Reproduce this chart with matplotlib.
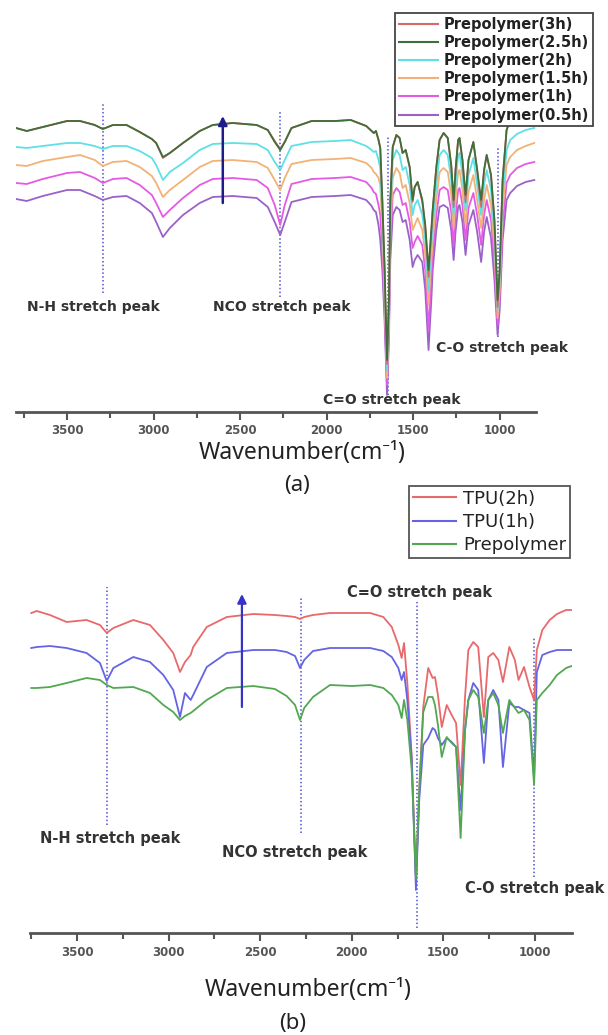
import matplotlib
matplotlib.use('Agg')
import matplotlib.pyplot as plt
from matplotlib.lines import Line2D

# ---------------- Panel (a) data: wavenumber (cm-1) and transmittance (a.u.) ----------------
wn_a = [3795, 3733, 3640, 3500, 3425, 3340, 3293, 3235, 3156, 3080,
        3010, 2985, 2946, 2906, 2830, 2733, 2658, 2543, 2404, 2340,
        2300, 2268, 2242, 2203, 2086, 1950, 1861, 1771, 1740, 1728,
        1715, 1700, 1690, 1678, 1665, 1651, 1640, 1632, 1618, 1597,
        1578, 1561, 1543, 1520, 1503, 1491, 1474, 1447, 1430, 1411,
        1395, 1387, 1366, 1347, 1324, 1300, 1280, 1266, 1255, 1240,
        1232, 1215, 1197, 1180, 1152, 1130, 1107, 1090, 1075, 1050,
        1030, 1012, 1000, 983, 960, 939, 900, 850, 800]

t_3h = [284, 281, 285, 291, 291, 287, 283, 287, 287, 280,
        273, 269, 254, 259, 269, 281, 287, 289, 287, 282,
        271, 263, 270, 284, 291, 291, 292, 286, 281, 279,
        281, 272, 264, 210, 142, 48, 110, 210, 265, 277,
        274, 259, 262, 245, 210, 225, 230, 210, 185, 135,
        180, 202, 245, 272, 279, 274, 247, 205, 242, 272,
        274, 252, 210, 252, 270, 242, 205, 242, 257, 237,
        190, 105, 140, 232, 282, 292, 307, 317, 322]

t_2_5h = [284, 281, 285, 291, 291, 287, 283, 287, 287, 280,
          273, 269, 255, 259, 269, 281, 287, 289, 287, 282,
          270, 262, 270, 284, 291, 291, 292, 286, 281, 279,
          281, 272, 264, 212, 145, 52, 112, 212, 265, 277,
          274, 259, 262, 245, 212, 225, 230, 212, 187, 142,
          182, 202, 245, 272, 279, 274, 247, 212, 242, 272,
          274, 252, 217, 252, 270, 242, 212, 242, 257, 237,
          192, 112, 142, 232, 282, 292, 307, 317, 322]

t_2h = [265, 264, 266, 269, 269, 266, 263, 266, 266, 261,
        254, 247, 232, 240, 249, 262, 268, 269, 268, 262,
        250, 242, 252, 266, 270, 271, 272, 266, 262, 260,
        261, 252, 244, 197, 132, 42, 102, 197, 252, 262,
        257, 242, 245, 227, 197, 207, 212, 197, 172, 122,
        167, 187, 227, 257, 262, 257, 232, 197, 227, 257,
        259, 237, 202, 237, 254, 227, 197, 227, 242, 222,
        177, 102, 132, 217, 262, 272, 278, 282, 284]

t_1_5h = [247, 246, 251, 255, 257, 252, 246, 250, 251, 245,
          236, 229, 215, 222, 232, 245, 251, 252, 250, 244,
          232, 222, 234, 248, 252, 253, 254, 249, 244, 240,
          238, 234, 227, 182, 117, 34, 92, 182, 234, 244,
          239, 224, 227, 209, 182, 187, 194, 182, 157, 107,
          152, 172, 212, 240, 244, 240, 217, 184, 212, 240,
          242, 222, 187, 220, 237, 212, 184, 212, 227, 207,
          164, 94, 122, 202, 247, 255, 262, 266, 269]

t_1h = [229, 228, 233, 239, 240, 234, 229, 233, 234, 227,
        217, 209, 195, 202, 214, 227, 233, 234, 232, 224,
        207, 187, 207, 228, 233, 234, 235, 230, 224, 220,
        218, 207, 197, 162, 102, 27, 82, 167, 217, 224,
        220, 207, 209, 190, 164, 170, 176, 167, 142, 82,
        132, 157, 197, 222, 225, 222, 200, 167, 195, 222,
        224, 207, 172, 204, 219, 197, 167, 197, 212, 192,
        147, 87, 112, 187, 229, 237, 244, 248, 250]

t_0_5h = [213, 211, 216, 222, 222, 216, 212, 215, 216, 209,
          199, 190, 175, 184, 197, 209, 215, 216, 214, 205,
          190, 177, 190, 210, 215, 216, 217, 212, 206, 202,
          200, 187, 172, 142, 92, 17, 72, 152, 197, 205,
          202, 190, 192, 172, 145, 152, 157, 150, 122, 62,
          112, 142, 182, 205, 207, 204, 182, 152, 180, 205,
          207, 190, 157, 187, 202, 180, 150, 180, 195, 174,
          132, 77, 102, 172, 212, 219, 226, 230, 232]

labels_a = ['Prepolymer(3h)', 'Prepolymer(2.5h)', 'Prepolymer(2h)',
            'Prepolymer(1.5h)', 'Prepolymer(1h)', 'Prepolymer(0.5h)']

# ---------------- Panel (b) data ----------------
wn_b = [3750, 3720, 3648, 3557, 3448, 3375, 3338, 3302, 3193, 3102,
        3029, 2975, 2938, 2911, 2880, 2866, 2792, 2683, 2538, 2420,
        2356, 2310, 2283, 2260, 2212, 2119, 2000, 1900, 1828, 1782,
        1746, 1728, 1715, 1697, 1673, 1650, 1632, 1610, 1583, 1559,
        1546, 1530, 1509, 1482, 1455, 1431, 1406, 1382, 1364, 1337,
        1310, 1279, 1255, 1228, 1200, 1175, 1140, 1110, 1090, 1060,
        1030, 1005, 990, 960, 920, 880, 830, 800]

t_tpu_2h = [320, 322, 318, 311, 313, 308, 300, 305, 313, 308,
            293, 280, 261, 271, 278, 286, 306, 316, 319, 318,
            317, 316, 314, 316, 318, 320, 320, 320, 316, 306,
            288, 275, 290, 250, 176, 53, 143, 226, 265, 255,
            256, 238, 206, 228, 218, 210, 148, 236, 283, 291,
            286, 216, 276, 280, 273, 251, 286, 273, 253, 266,
            246, 233, 283, 303, 313, 319, 323, 323]

t_tpu_1h = [285, 286, 287, 285, 280, 270, 252, 265, 276, 271,
            258, 243, 216, 240, 233, 238, 266, 280, 283, 283,
            281, 277, 265, 273, 282, 285, 285, 285, 282, 276,
            265, 253, 261, 233, 173, 43, 133, 188, 195, 205,
            203, 195, 188, 195, 191, 186, 123, 203, 233, 250,
            243, 170, 233, 243, 233, 166, 230, 226, 226, 223,
            220, 155, 261, 278, 281, 283, 283, 283]

t_prepolymer = [245, 245, 246, 250, 255, 253, 248, 245, 246, 240,
                228, 221, 213, 217, 220, 222, 233, 245, 247, 244,
                237, 228, 213, 225, 236, 248, 247, 248, 245, 238,
                228, 215, 233, 213, 163, 55, 143, 221, 236, 236,
                228, 208, 176, 196, 190, 186, 95, 203, 233, 243,
                236, 200, 233, 240, 228, 200, 233, 225, 220, 223,
                213, 148, 233, 240, 248, 258, 265, 267]

labels_b = ['TPU(2h)', 'TPU(1h)', 'Prepolymer']

# peak marker lines (wavenumber, top, bottom) and their labels
peak_names = ['N-H stretch peak', 'NCO stretch peak', 'C=O stretch peak', 'C-O stretch peak']
peak_wn_a = [3293, 2268, 1648, 1008]
peak_top_a = [308, 302, 275, 265]
peak_bot_a = [119, 115, 17, 75]
peak_wn_b = [3337, 2278, 1645, 1005]
peak_top_b = [346, 335, 331, 296]
peak_bot_b = [108, 100, 5, 56]

major_ticks = [3500, 3000, 2500, 2000, 1500, 1000]
minor_ticks = [3750, 3250, 2750, 2250, 1750, 1250]

W, H = 608, 1035
fig = plt.figure(figsize=(W / 100, H / 100), dpi=100)


def style_axis(ax, xlim, ylim):
    ax.set_xlim(*xlim)
    ax.set_ylim(*ylim)
    for s in ['left', 'right', 'top']:
        ax.spines[s].set_visible(False)
    ax.spines['bottom'].set_color('#555555')
    ax.spines['bottom'].set_linewidth(2.0)
    ax.set_yticks([])
    ax.set_xticks(major_ticks)
    ax.set_xticks(minor_ticks, minor=True)
    ax.tick_params(axis='x', which='major', direction='out', length=6, width=1.5,
                   color='#555555', pad=3, labelsize=8.5, labelcolor='#555555')
    ax.tick_params(axis='x', which='minor', direction='out', length=4, width=1.5,
                   color='#555555')
    for lab in ax.get_xticklabels():
        lab.set_fontweight('bold')
        lab.set_family('DejaVu Sans')
    ax.patch.set_alpha(0)


# ---------------- Panel (a) ----------------
ax_a = fig.add_axes([16 / W, 1 - 412 / H, 520 / W, 400 / H])
style_axis(ax_a, (3795, 790), (0, 400))

colors_a = ['#d96a6a', '#3f6f3a', '#5ee0e6', '#f2b277', '#e45ae4', '#9a62c8']
series_a = [t_3h, t_2_5h, t_2h, t_1_5h, t_1h, t_0_5h]
draw_order_a = [5, 4, 3, 2, 0, 1]
for k, i in enumerate(draw_order_a):
    ax_a.plot(wn_a, series_a[i], color=colors_a[i], lw=1.3, zorder=3 + k * 0.1)
handles_a = [Line2D([], [], color=c, lw=1.5) for c in colors_a]

for w, t, b in zip(peak_wn_a, peak_top_a, peak_bot_a):
    ax_a.plot([w, w], [b, t], ls=(0, (1, 1.5)), color='#5050cc', lw=1.1, zorder=2)

ax_a.annotate('', xy=(2600, 296), xytext=(2600, 209),
              arrowprops=dict(arrowstyle='-|>', color='#1c1c8a', lw=1.8,
                              mutation_scale=13, shrinkA=0, shrinkB=0), zorder=6)

txt_kw = dict(ha='center', va='center', fontsize=10, fontweight='bold',
              color='#333333', family='DejaVu Sans', zorder=7, clip_on=False)
ax_a.text(3347, 105, peak_names[0], **txt_kw)
ax_a.text(2262, 105, peak_names[1], **txt_kw)
ax_a.text(1621, 12, peak_names[2], **txt_kw)
ax_a.text(988, 64, peak_names[3], **txt_kw)

fig.text(302 / W, 1 - 453 / H, 'Wavenumber(cm⁻¹)', ha='center', va='center',
         fontsize=16.5, family=['Noto Sans', 'DejaVu Sans'], color='#222222')
fig.text(297 / W, 1 - 485 / H, '(a)', ha='center', va='center',
         fontsize=16, family=['Noto Sans', 'DejaVu Sans'], color='#222222')

leg_a = fig.legend(handles_a, labels_a, loc='upper left',
                   bbox_to_anchor=(395 / W, 1 - 13 / H), bbox_transform=fig.transFigure,
                   prop={'family': 'DejaVu Sans', 'weight': 'bold', 'size': 10.5},
                   handlelength=2.7, handletextpad=0.4, borderpad=0.25,
                   labelspacing=0.22, borderaxespad=0, fancybox=False,
                   framealpha=1, edgecolor='#444444', facecolor='white')
leg_a.get_frame().set_linewidth(1.3)
for t in leg_a.get_texts():
    t.set_color('#222222')

# ---------------- Panel (b) ----------------
ax_b = fig.add_axes([30 / W, 1 - 933 / H, 542 / W, 350 / H])
style_axis(ax_b, (3757, 798), (0, 350))

colors_b = ['#e8696b', '#6464e4', '#52a852']
series_b = [t_tpu_2h, t_tpu_1h, t_prepolymer]
for i in [0, 1, 2]:
    ax_b.plot(wn_b, series_b[i], color=colors_b[i], lw=1.3, zorder=3 + i * 0.1)
handles_b = [Line2D([], [], color=c, lw=1.5) for c in colors_b]

for w, t, b in zip(peak_wn_b, peak_top_b, peak_bot_b):
    ax_b.plot([w, w], [b, t], ls=(0, (1, 1.5)), color='#5050cc', lw=1.1, zorder=2)

ax_b.annotate('', xy=(2600, 339), xytext=(2600, 226),
              arrowprops=dict(arrowstyle='-|>', color='#3434c8', lw=1.6,
                              mutation_scale=13, shrinkA=0, shrinkB=0), zorder=6)

txt_kw_b = dict(txt_kw)
txt_kw_b['fontsize'] = 10.5
ax_b.text(3318, 95, peak_names[0], **txt_kw_b)
ax_b.text(2310, 81, peak_names[1], **txt_kw_b)
ax_b.text(1628, 341, peak_names[2], **txt_kw_b)
ax_b.text(1000, 45, peak_names[3], **txt_kw_b)

fig.text(308 / W, 1 - 990 / H, 'Wavenumber(cm⁻¹)', ha='center', va='center',
         fontsize=16.5, family=['Noto Sans', 'DejaVu Sans'], color='#222222')
fig.text(293 / W, 1 - 1023 / H, '(b)', ha='center', va='center',
         fontsize=16, family=['Noto Sans', 'DejaVu Sans'], color='#222222')

leg_b = fig.legend(handles_b, labels_b, loc='upper left',
                   bbox_to_anchor=(409 / W, 1 - 486 / H), bbox_transform=fig.transFigure,
                   prop={'family': 'DejaVu Sans', 'size': 13},
                   handlelength=2.4, handletextpad=0.4, borderpad=0.2,
                   labelspacing=0.3, borderaxespad=0, fancybox=False,
                   framealpha=1, edgecolor='#555555', facecolor='white')
leg_b.get_frame().set_linewidth(1.3)
for t in leg_b.get_texts():
    t.set_color('#222222')

fig.savefig('out.png', dpi=100, facecolor='white')
